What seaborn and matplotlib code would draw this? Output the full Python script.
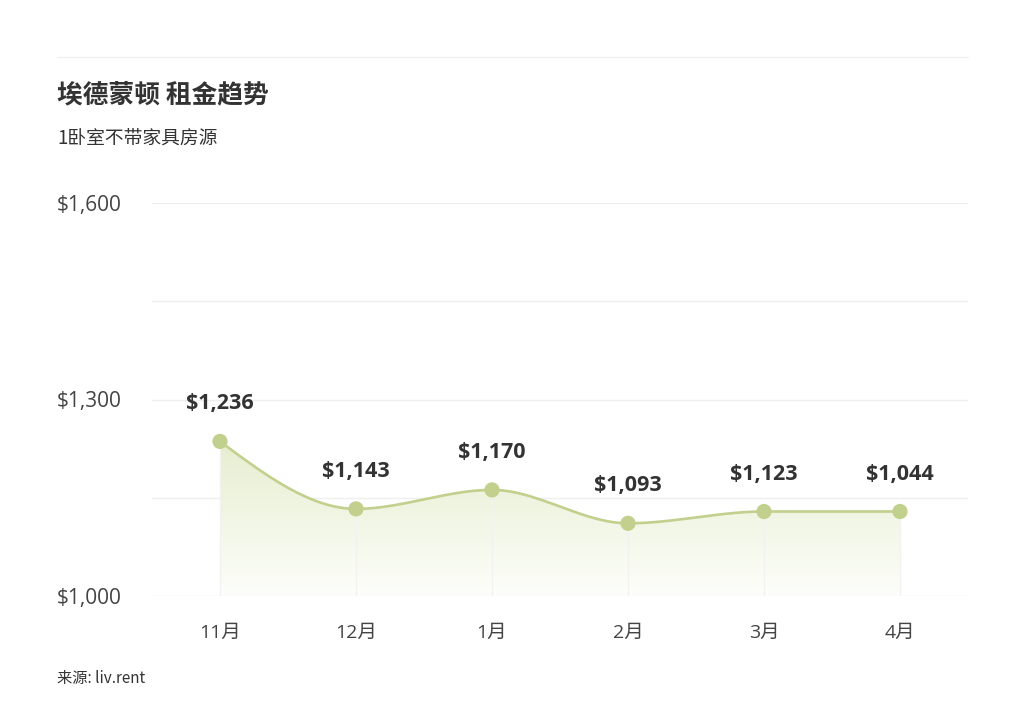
import numpy as np
import pandas as pd
import matplotlib
matplotlib.use("Agg")
import matplotlib.pyplot as plt
from matplotlib.colors import LinearSegmentedColormap
from matplotlib.lines import Line2D
import seaborn as sns

# ---- data ----
months = ['11月', '12月', '1月', '2月', '3月', '4月']
rent = [1236, 1133, 1162, 1111, 1129, 1129]
value_labels = ['$1,236', '$1,143', '$1,170', '$1,093', '$1,123', '$1,044']
y_ticks = [1000, 1300, 1600]
y_tick_labels = ['$1,000', '$1,300', '$1,600']
y_minor = [1150, 1450]
title = '埃德蒙顿 租金趋势'
subtitle = '1卧室不带家具房源'
source = '来源: liv.rent'

sns.set_theme(style='white')
plt.rcParams['font.family'] = ['Open Sans', 'Noto Sans CJK SC', 'DejaVu Sans']

GREEN = '#C1D08C'
TXT = '#333333'

fig = plt.figure(figsize=(10.24, 7.18), dpi=100)
ax = fig.add_axes([152/1024, 1-596/718, (968-152)/1024, (596-203)/718])

df = pd.DataFrame({'month': months, 'rent': rent, 'x': np.arange(len(months))})

# monotone cubic (Fritsch-Carlson) smoothing for rendering the line
def monotone(x, y, n=60):
    x = np.asarray(x, float); y = np.asarray(y, float)
    h = np.diff(x); d = np.diff(y) / h
    m = np.zeros_like(y)
    for i in range(1, len(y)-1):
        if d[i-1] * d[i] <= 0:
            m[i] = 0
        else:
            w1 = 2*h[i] + h[i-1]; w2 = h[i] + 2*h[i-1]
            m[i] = (w1 + w2) / (w1/d[i-1] + w2/d[i])
    m[0] = (3*d[0] - m[1]) / 2
    m[-1] = (3*d[-1] - m[-2]) / 2
    xs, ys = [], []
    for i in range(len(y)-1):
        t = np.linspace(0, 1, n, endpoint=(i == len(y)-2))
        h00 = 2*t**3 - 3*t**2 + 1; h10 = t**3 - 2*t**2 + t
        h01 = -2*t**3 + 3*t**2; h11 = t**3 - t**2
        xs.append(x[i] + t*h[i])
        ys.append(h00*y[i] + h10*h[i]*m[i] + h01*y[i+1] + h11*h[i]*m[i+1])
    return np.concatenate(xs), np.concatenate(ys)

xs, ys = monotone(df['x'], df['rent'])

ax.set_xlim(-0.5, len(months) - 0.5)
ax.set_ylim(1000, 1600)

# gridlines
for v in y_ticks + y_minor:
    ax.axhline(v, color='#EFEFEF', lw=1, zorder=0)

# gradient fill under the curve
poly = ax.fill_between(xs, ys, 1000, color='none', lw=0)
cmap = LinearSegmentedColormap.from_list('g', ['#FDFEFA', '#E6EED0'])
grad = np.linspace(0, 1, 256).reshape(-1, 1)
im = ax.imshow(grad, extent=[xs.min(), xs.max(), 1000, max(rent)], origin='lower',
               aspect='auto', cmap=cmap, zorder=1)
im.set_clip_path(poly.get_paths()[0], transform=ax.transData)

# faint verticals
for xi, v in zip(df['x'], df['rent']):
    ax.plot([xi, xi], [1000, v], color='#F2F2F2', lw=1, zorder=1.5)

ax.plot(xs, ys, color=GREEN, lw=1.9, zorder=2, solid_capstyle='round')
sns.scatterplot(data=df, x='x', y='rent', ax=ax, s=120, color=GREEN,
                edgecolor='none', zorder=3, legend=False)

for xi, v, lab in zip(df['x'], df['rent'], value_labels):
    ax.annotate(lab, (xi, v), xytext=(0, 27), textcoords='offset points',
                ha='center', va='center', fontsize=15.5, fontweight='bold',
                color=TXT, family=['Open Sans', 'DejaVu Sans'])

ax.set_xticks(df['x'])
ax.set_xticklabels(months, fontsize=14, color='#444444')
ax.set_yticks(y_ticks)
ax.set_yticklabels(y_tick_labels, fontsize=15, color='#444444')
for t in ax.get_yticklabels():
    t.set_horizontalalignment('left')
ax.tick_params(axis='y', length=0, pad=(152-57)*0.72)
ax.tick_params(axis='x', length=0, pad=20)
ax.set_xlabel(''); ax.set_ylabel('')
for s in ax.spines.values():
    s.set_visible(False)

# header/footer
fig.add_artist(Line2D([57/1024, 968/1024], [1-57/718, 1-57/718], color='#F0F0F0', lw=1))
fig.text(57/1024, 1-95/718, title, fontsize=18.5, fontweight='bold', color=TXT,
         va='center', ha='left', family=['Noto Sans CJK SC', 'DejaVu Sans'])
fig.text(57/1024, 1-138/718, subtitle, fontsize=13.5, color=TXT,
         va='center', ha='left', family=['Noto Sans CJK SC', 'DejaVu Sans'])
fig.text(57/1024, 1-679/718, source, fontsize=11, color=TXT,
         va='center', ha='left', family=['Noto Sans CJK SC', 'DejaVu Sans'])

fig.savefig('out.png', dpi=100, facecolor='white')
